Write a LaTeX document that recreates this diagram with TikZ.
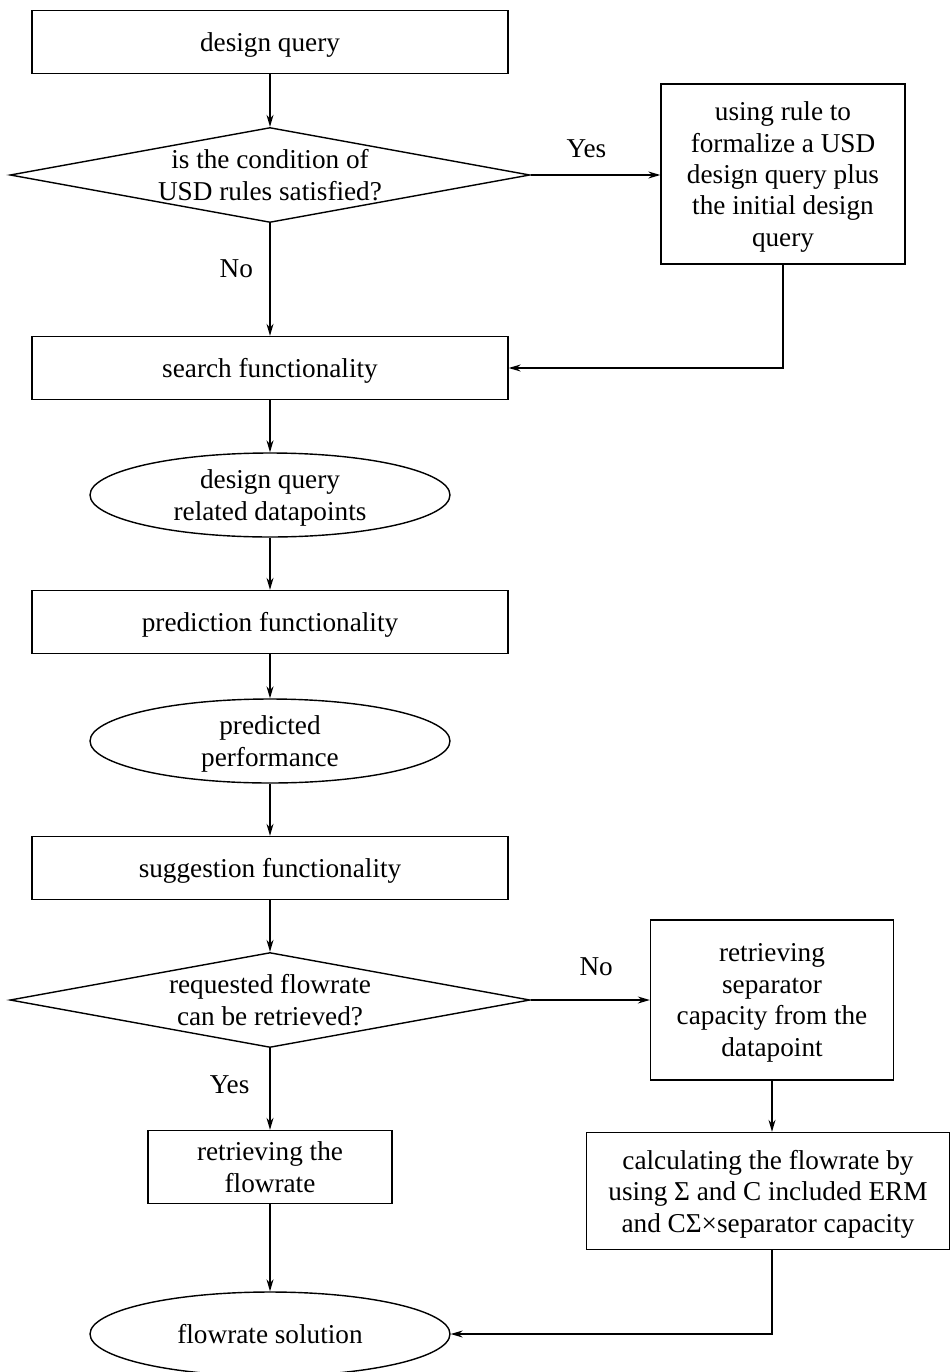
\documentclass[tikz,border=0pt]{standalone}
\usepackage{fontspec}
\setmainfont{Liberation Serif}
\usetikzlibrary{shapes.geometric,arrows.meta}

\begin{document}
\begin{tikzpicture}[x=0.02cm, y=-0.02cm, >={Stealth[length=2.4mm,width=1.4mm]},
        every node/.style={font=\fontsize{15.5}{17.9}\selectfont, align=center, text depth=0pt},
        every path/.style={line width=0.8pt},
        stepbox/.style={draw, rectangle, inner sep=2pt},
        mainbox/.style={stepbox, minimum width=9.52cm, minimum height=1.26cm},
        decision/.style={draw, diamond, aspect=5.47, inner sep=0pt, minimum width=10.4cm, minimum height=1.9cm},
        result/.style={draw, ellipse, inner sep=0pt, minimum width=7.2cm, minimum height=1.68cm}]
        \useasboundingbox (0,0) rectangle (950,1372);

        % Main column
        \node[mainbox] (query) at (270,42) {design query};
        \node[decision] (cond) at (270,175) {is the condition of\\USD rules satisfied?};
        \node[mainbox] (search) at (270,368) {search functionality};
        \node[result] (datapts) at (270,495) {design query\\related datapoints};
        \node[mainbox] (predict) at (270,622) {prediction functionality};
        \node[result] (perf) at (270,741) {predicted\\performance};
        \node[mainbox] (suggest) at (270,868) {suggestion functionality};
        \node[decision] (flowq) at (270,1000) {requested flowrate\\can be retrieved?};
        \node[stepbox, minimum width=4.88cm, minimum height=1.46cm] (retrieve) at (270,1167) {retrieving the\\flowrate};
        \node[result, minimum height=1.68cm] (solution) at (270,1334) {flowrate solution};

        % Side boxes
        \node[stepbox, minimum width=4.88cm, minimum height=3.6cm] (rule) at (783,174) {using rule to\\formalize a USD\\design query plus\\the initial design\\query};
        \node[stepbox, minimum width=4.86cm, minimum height=3.2cm] (capacity) at (772,1000) {retrieving\\separator\\capacity from the\\datapoint};
        \node[stepbox, minimum width=7.26cm, minimum height=2.34cm] (calc) at (768,1191) {calculating the flowrate by\\using Σ and C included ERM\\and CΣ×separator capacity};

        % Connectors
        \draw[->] (query) -- (cond);
        \draw[->] (cond.east) -- (cond.east -| rule.west) node[pos=0.43, above=6pt] (yes1) {Yes};
        \draw[->] (cond) -- (search) node[pos=0.4, left=6pt] (no1) {No};
        \draw[->] (rule.south) |- (search.east);
        \draw[->] (search) -- (datapts);
        \draw[->] (datapts) -- (predict);
        \draw[->] (predict) -- (perf);
        \draw[->] (perf) -- (suggest);
        \draw[->] (suggest) -- (flowq);
        \draw[->] (flowq.east) -- (flowq.east -| capacity.west) node[pos=0.55, above=10pt] (no2) {No};
        \draw[->] (flowq) -- (retrieve) node[pos=0.45, left=8pt] (yes2) {Yes};
        \draw[->] (capacity) -- (capacity.south |- calc.north);
        \draw[->] (retrieve) -- (solution);
        \draw[->] (calc.south -| capacity.south) |- (solution.east);
\end{tikzpicture}
\end{document}
